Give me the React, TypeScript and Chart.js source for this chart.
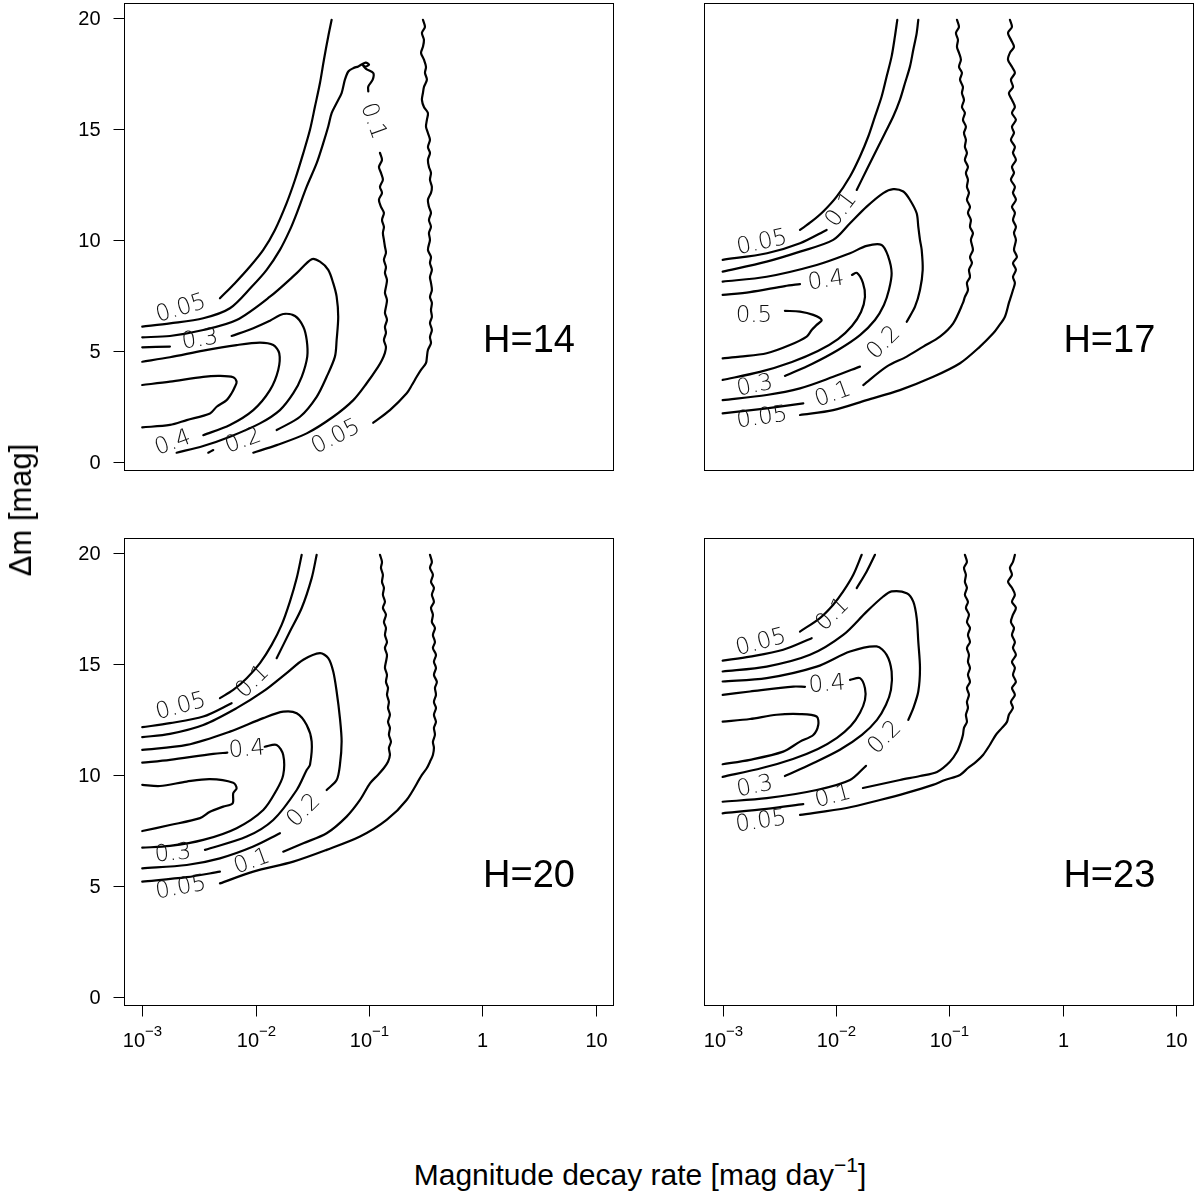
import React, { useEffect, useRef } from "react";
import { Chart, registerables } from "chart.js";

Chart.register(...registerables);

type Pt = [number, number];
type Lab = [string, number, number, number]; // text, log10 rate, delta m, angle (deg)

// ---- axes ----
const xTickExp = [-3, -2, -1, 0, 1];
const yTicks = [0, 5, 10, 15, 20];
const xMin = -3.161, xMax = 1.151, yMin = -0.37, yMax = 20.69;

// ---- H = 14 ----
const h14_c05a: Pt[] = [[-2.315,7.37],[-2.183,8.05],[-2.05,8.8],[-1.933,9.55],[-1.83,10.45],[-1.727,11.66],[-1.653,12.71],[-1.58,13.91],[-1.521,14.96],[-1.477,16.01],[-1.433,17.07],[-1.398,18.12],[-1.36,19.17],[-1.33,19.92]];
const h14_c05b: Pt[] = [[-0.525,19.92],[-0.507,19.6],[-0.534,19.33],[-0.516,19.02],[-0.525,18.7],[-0.542,18.43],[-0.516,18.12],[-0.498,17.8],[-0.507,17.53],[-0.49,17.22],[-0.516,16.89],[-0.525,16.62],[-0.534,16.31],[-0.516,15.99],[-0.481,15.72],[-0.49,15.41],[-0.498,15.1],[-0.481,14.82],[-0.463,14.51],[-0.481,14.19],[-0.463,13.92],[-0.481,13.61],[-0.472,13.29],[-0.454,13.02],[-0.463,12.71],[-0.446,12.39],[-0.454,12.12],[-0.481,11.81],[-0.472,11.49],[-0.454,11.22],[-0.472,10.9],[-0.454,10.59],[-0.472,10.31],[-0.463,10.0],[-0.481,9.55],[-0.454,9.23],[-0.463,8.96],[-0.446,8.65],[-0.463,8.33],[-0.454,8.06],[-0.446,7.74],[-0.463,7.43],[-0.446,7.16],[-0.454,6.84],[-0.446,6.53],[-0.463,6.26],[-0.446,5.94],[-0.463,5.62],[-0.454,5.35],[-0.481,5.04],[-0.49,4.72],[-0.498,4.45],[-0.542,4.14],[-0.58,3.83],[-0.622,3.46],[-0.668,3.09],[-0.816,2.33],[-0.963,1.76]];
const h14_c10a: Pt[] = [[-3.0,6.09],[-2.756,6.24],[-2.462,6.47],[-2.227,6.92],[-2.035,7.89],[-1.903,8.65],[-1.786,9.55],[-1.698,10.45],[-1.638,11.2],[-1.55,12.4],[-1.462,13.46],[-1.404,14.36],[-1.36,15.11],[-1.33,15.71],[-1.286,16.17],[-1.242,16.62],[-1.213,17.22],[-1.183,17.59],[-1.139,17.74],[-1.095,17.82],[-1.03,17.99],[-1.0,17.9],[-1.035,17.81],[-1.06,17.92],[-1.027,17.71],[-0.963,17.52],[-0.968,17.22],[-1.007,16.91],[-1.007,16.69]];
const h14_c10b: Pt[] = [[-0.904,13.92],[-0.886,13.61],[-0.913,13.29],[-0.895,13.02],[-0.878,12.71],[-0.904,12.39],[-0.886,12.12],[-0.913,11.81],[-0.895,11.49],[-0.869,11.22],[-0.886,10.9],[-0.869,10.59],[-0.878,10.31],[-0.869,10.0],[-0.86,9.69],[-0.851,9.42],[-0.869,9.1],[-0.851,8.78],[-0.86,8.51],[-0.842,8.2],[-0.851,7.88],[-0.86,7.61],[-0.842,7.29],[-0.851,6.98],[-0.86,6.71],[-0.842,6.4],[-0.86,6.08],[-0.851,5.81],[-0.869,5.49],[-0.851,5.18],[-0.86,4.91],[-0.886,4.59],[-0.922,4.27],[-1.021,3.54],[-1.139,2.78],[-1.316,2.03],[-1.55,1.28],[-1.815,0.75],[-2.021,0.41]];
const h14_c20a: Pt[] = [[-3.0,5.61],[-2.756,5.67],[-2.462,5.94],[-2.168,6.39],[-1.874,7.44],[-1.638,8.5],[-1.506,9.13],[-1.433,9.02],[-1.36,8.65],[-1.316,8.05],[-1.286,7.44],[-1.272,6.54],[-1.286,5.49],[-1.301,4.74],[-1.374,3.83],[-1.462,2.93],[-1.609,2.03],[-1.815,1.43]];
const h14_c20b: Pt[] = [[-2.374,0.53],[-2.418,0.41]];
const h14_c30a: Pt[] = [[-3.0,5.16],[-2.756,5.19]];
const h14_c30b: Pt[] = [[-2.212,5.67],[-2.021,6.02],[-1.874,6.36],[-1.757,6.66],[-1.653,6.57],[-1.58,6.09],[-1.55,5.49],[-1.545,4.74],[-1.594,3.83],[-1.668,3.09],[-1.786,2.33],[-1.962,1.73],[-2.227,1.13],[-2.462,0.71],[-2.697,0.41]];
const h14_c40: Pt[] = [[-3.0,4.51],[-2.756,4.71],[-2.462,5.01],[-2.168,5.26],[-1.962,5.37],[-1.845,5.26],[-1.792,4.89],[-1.801,4.14],[-1.874,3.23],[-2.021,2.33],[-2.227,1.66],[-2.462,1.2]];
const h14_c50: Pt[] = [[-3.0,3.46],[-2.756,3.61],[-2.462,3.83],[-2.315,3.87],[-2.198,3.81],[-2.168,3.61],[-2.183,3.38],[-2.212,3.09],[-2.256,2.78],[-2.344,2.48],[-2.403,2.18],[-2.608,1.88],[-2.756,1.66],[-3.0,1.55]];
const h14_labels: Lab[] = [["0.05",-2.659,6.89,-17],["0.05",-1.292,1.11,-27],["0.1",-0.966,15.35,70],["0.2",-2.11,0.93,-20],["0.3",-2.491,5.49,-8],["0.4",-2.729,0.84,-20]];

// ---- H = 17 ----
const h17_c05a: Pt[] = [[-2.318,10.45],[-2.215,10.83],[-2.113,11.28],[-1.995,11.95],[-1.877,12.86],[-1.789,13.76],[-1.716,14.66],[-1.657,15.56],[-1.598,16.46],[-1.554,17.36],[-1.51,18.27],[-1.481,19.17],[-1.46,19.92]];
const h17_c05b: Pt[] = [[-0.467,19.92],[-0.449,19.6],[-0.484,19.33],[-0.458,19.02],[-0.431,18.7],[-0.467,18.43],[-0.484,18.12],[-0.449,17.8],[-0.423,17.53],[-0.458,17.22],[-0.44,16.89],[-0.476,16.62],[-0.449,16.31],[-0.423,15.99],[-0.449,15.72],[-0.414,15.41],[-0.449,15.1],[-0.431,14.82],[-0.458,14.51],[-0.423,14.19],[-0.44,13.92],[-0.414,13.61],[-0.449,13.29],[-0.431,13.02],[-0.458,12.71],[-0.423,12.39],[-0.44,12.12],[-0.414,11.81],[-0.449,11.49],[-0.423,11.22],[-0.44,10.9],[-0.414,10.59],[-0.431,10.31],[-0.414,10.0],[-0.431,9.55],[-0.405,9.23],[-0.44,8.96],[-0.414,8.65],[-0.44,8.33],[-0.423,8.06],[-0.44,7.74],[-0.458,7.44],[-0.476,7.16],[-0.511,6.54],[-0.572,6.07],[-0.614,5.79],[-0.731,5.19],[-0.907,4.44],[-1.143,3.83],[-1.437,3.23],[-1.73,2.78],[-2.025,2.33],[-2.318,2.11]];
const h17_c10a: Pt[] = [[-3.0,9.1],[-2.609,9.4],[-2.318,9.85],[-2.083,10.45]];
const h17_c10b: Pt[] = [[-1.818,12.25],[-1.73,13.16],[-1.642,14.06],[-1.569,14.81],[-1.496,15.56],[-1.437,16.31],[-1.392,17.07],[-1.348,17.82],[-1.319,18.57],[-1.289,19.32],[-1.275,19.92]];
const h17_c10c: Pt[] = [[-0.934,19.92],[-0.916,19.6],[-0.943,19.33],[-0.925,19.02],[-0.934,18.7],[-0.916,18.43],[-0.899,18.12],[-0.916,17.8],[-0.89,17.53],[-0.907,17.22],[-0.881,16.89],[-0.89,16.62],[-0.872,16.31],[-0.89,15.99],[-0.864,15.72],[-0.881,15.41],[-0.855,15.1],[-0.872,14.82],[-0.855,14.51],[-0.864,14.19],[-0.846,13.92],[-0.864,13.61],[-0.837,13.29],[-0.855,13.02],[-0.837,12.71],[-0.846,12.39],[-0.828,12.12],[-0.846,11.81],[-0.819,11.49],[-0.837,11.22],[-0.811,10.9],[-0.819,10.59],[-0.793,10.31],[-0.811,10.0],[-0.793,9.55],[-0.819,9.23],[-0.802,8.96],[-0.828,8.65],[-0.819,8.33],[-0.846,8.06],[-0.837,7.74],[-0.864,7.43],[-0.881,7.16],[-0.967,6.24],[-1.084,5.64],[-1.231,5.19],[-1.377,4.74],[-1.554,4.29],[-1.76,3.46]];
const h17_c10d: Pt[] = [[-2.289,2.63],[-2.612,2.41],[-3.0,2.18]];
const h17_c20a: Pt[] = [[-3.0,8.57],[-2.612,9.02],[-2.318,9.47],[-2.025,10.0],[-1.877,10.75],[-1.73,11.5],[-1.584,12.11],[-1.496,12.29],[-1.407,12.18],[-1.348,11.8],[-1.289,11.2],[-1.275,10.6],[-1.26,10.0],[-1.245,9.55],[-1.236,8.65],[-1.26,7.74],[-1.304,6.99],[-1.377,6.31]];
const h17_c20b: Pt[] = [[-1.789,4.29],[-2.025,3.83],[-2.318,3.31],[-2.612,3.01],[-3.0,2.78]];
const h17_c30: Pt[] = [[-3.0,8.12],[-2.612,8.34],[-2.171,8.87],[-1.877,9.4],[-1.73,9.73],[-1.598,9.77],[-1.54,9.25],[-1.51,8.5],[-1.534,7.74],[-1.578,7.07],[-1.657,6.39],[-1.789,5.71],[-1.983,5.04],[-2.213,4.41],[-2.451,3.87]];
const h17_c40a: Pt[] = [[-3.0,7.52],[-2.759,7.65],[-2.451,7.92],[-2.318,8.01]];
const h17_c40b: Pt[] = [[-1.86,8.42],[-1.816,8.51],[-1.763,8.06],[-1.745,7.43],[-1.78,6.75],[-1.86,6.12],[-1.983,5.53],[-2.16,4.99],[-2.389,4.5],[-2.671,4.05],[-3.0,3.69]];
const h17_c50: Pt[] = [[-2.451,6.8],[-2.318,6.77],[-2.201,6.62],[-2.127,6.39],[-2.171,6.17],[-2.215,5.94],[-2.259,5.64],[-2.407,5.26],[-2.612,4.89],[-2.847,4.74],[-3.0,4.66]];
const h17_labels: Lab[] = [["0.05",-2.653,9.86,-12],["0.1",-1.951,11.35,-53],["0.4",-2.089,8.15,-8],["0.5",-2.724,6.57,0],["0.2",-1.578,5.35,-45],["0.3",-2.715,3.41,-12],["0.1",-2.027,3.01,-20],["0.05",-2.653,1.97,-8]];

// ---- H = 20 ----
const h20_c05a: Pt[] = [[-2.315,13.46],[-2.198,13.83],[-2.079,14.36],[-1.962,15.04],[-1.859,15.86],[-1.771,16.76],[-1.698,17.81],[-1.638,18.87],[-1.594,19.92]];
const h20_c05b: Pt[] = [[-0.463,19.92],[-0.446,19.6],[-0.463,19.33],[-0.437,19.02],[-0.454,18.7],[-0.428,18.43],[-0.446,18.12],[-0.428,17.8],[-0.454,17.53],[-0.437,17.22],[-0.446,16.89],[-0.419,16.62],[-0.437,16.31],[-0.419,15.99],[-0.437,15.72],[-0.41,15.41],[-0.428,15.1],[-0.41,14.82],[-0.428,14.51],[-0.402,14.19],[-0.419,13.92],[-0.41,13.61],[-0.428,13.29],[-0.41,13.02],[-0.428,12.71],[-0.41,12.39],[-0.428,12.12],[-0.419,11.81],[-0.437,11.49],[-0.428,11.22],[-0.437,10.9],[-0.463,10.59],[-0.49,10.31],[-0.534,10.0],[-0.669,8.87],[-0.845,7.97],[-1.08,7.22],[-1.374,6.62],[-1.668,6.09],[-2.021,5.64],[-2.315,5.11]];
const h20_c10a: Pt[] = [[-3.0,12.15],[-2.756,12.33],[-2.462,12.63],[-2.212,13.23]];
const h20_c10b: Pt[] = [[-1.815,15.26],[-1.698,16.46],[-1.594,17.52],[-1.506,18.87],[-1.462,19.92]];
const h20_c10c: Pt[] = [[-0.904,19.92],[-0.886,19.6],[-0.895,19.33],[-0.878,19.02],[-0.886,18.7],[-0.869,18.43],[-0.878,18.12],[-0.86,17.8],[-0.878,17.53],[-0.851,17.22],[-0.869,16.89],[-0.851,16.62],[-0.86,16.31],[-0.842,15.99],[-0.86,15.72],[-0.842,15.41],[-0.851,15.1],[-0.86,14.82],[-0.842,14.51],[-0.851,14.19],[-0.833,13.92],[-0.842,13.61],[-0.825,13.29],[-0.833,13.02],[-0.816,12.71],[-0.833,12.39],[-0.816,12.12],[-0.825,11.81],[-0.807,11.49],[-0.825,11.22],[-0.816,10.9],[-0.833,10.59],[-0.869,10.31],[-0.922,10.0],[-0.992,9.62],[-1.08,8.87],[-1.198,8.12],[-1.374,7.37],[-1.58,6.92],[-1.757,6.54]];
const h20_c10d: Pt[] = [[-2.315,5.64],[-2.608,5.39],[-3.0,5.19]];
const h20_c20a: Pt[] = [[-3.0,11.7],[-2.756,11.85],[-2.462,12.25],[-2.168,13.01],[-1.933,13.76],[-1.727,14.59],[-1.58,15.19],[-1.433,15.49],[-1.36,15.26],[-1.316,14.66],[-1.286,13.76],[-1.257,12.56],[-1.242,11.5],[-1.257,10.45],[-1.286,9.77],[-1.374,9.32]];
const h20_c20b: Pt[] = [[-1.786,7.37],[-2.021,6.77],[-2.315,6.24],[-2.608,5.94],[-3.0,5.79]];
const h20_c30: Pt[] = [[-3.0,11.13],[-2.608,11.35],[-2.227,11.95],[-1.933,12.56],[-1.757,12.85],[-1.638,12.78],[-1.55,12.25],[-1.506,11.5],[-1.521,10.45],[-1.55,10.22],[-1.638,9.32],[-1.845,7.97],[-2.079,7.22],[-2.447,6.62]];
const h20_c40a: Pt[] = [[-3.0,10.55],[-2.756,10.68],[-2.374,10.95],[-2.25,11.0]];
const h20_c40b: Pt[] = [[-1.92,11.27],[-1.815,11.35],[-1.757,10.9],[-1.757,10.0],[-1.815,9.32],[-1.933,8.42],[-2.168,7.6],[-2.462,7.07],[-2.756,6.8],[-3.0,6.72]];
const h20_c50: Pt[] = [[-3.0,9.55],[-2.844,9.5],[-2.608,9.7],[-2.403,9.81],[-2.198,9.65],[-2.168,9.4],[-2.198,9.17],[-2.203,8.72],[-2.286,8.57],[-2.403,8.34],[-2.491,8.05],[-2.756,7.74],[-3.0,7.47]];
const h20_labels: Lab[] = [["0.05",-2.659,13.07,-15],["0.1",-2.024,14.19,-45],["0.4",-2.077,11.13,-5],["0.3",-2.729,6.44,-5],["0.2",-1.574,8.38,-45],["0.1",-2.033,6.08,-20],["0.05",-2.659,4.9,-10]];

// ---- H = 23 ----
const h23_c05a: Pt[] = [[-2.318,16.46],[-2.142,17.07],[-2.025,17.67],[-1.937,18.27],[-1.848,19.02],[-1.774,19.92]];
const h23_c05b: Pt[] = [[-0.423,19.92],[-0.44,19.6],[-0.467,19.33],[-0.449,19.02],[-0.484,18.7],[-0.449,18.43],[-0.423,18.12],[-0.449,17.8],[-0.414,17.53],[-0.44,17.22],[-0.458,16.89],[-0.431,16.62],[-0.449,16.31],[-0.423,15.99],[-0.44,15.72],[-0.414,15.41],[-0.449,15.1],[-0.423,14.82],[-0.44,14.51],[-0.414,14.19],[-0.449,13.92],[-0.423,13.61],[-0.458,13.29],[-0.44,13.02],[-0.476,12.71],[-0.493,12.39],[-0.537,12.12],[-0.59,11.81],[-0.643,11.36],[-0.704,10.9],[-0.766,10.59],[-0.837,10.31],[-0.907,10.0],[-1.04,9.77],[-1.146,9.55],[-1.377,9.19],[-1.613,8.87],[-1.907,8.51],[-2.318,8.2]];
const h23_c10a: Pt[] = [[-3.0,15.15],[-2.759,15.33],[-2.466,15.64],[-2.215,16.16]];
const h23_c10b: Pt[] = [[-1.818,18.42],[-1.73,19.17],[-1.657,19.92]];
const h23_c10c: Pt[] = [[-0.864,19.92],[-0.846,19.6],[-0.872,19.33],[-0.855,19.02],[-0.864,18.7],[-0.846,18.43],[-0.864,18.12],[-0.837,17.8],[-0.855,17.53],[-0.828,17.22],[-0.846,16.89],[-0.819,16.62],[-0.837,16.31],[-0.819,15.99],[-0.846,15.72],[-0.828,15.41],[-0.837,15.1],[-0.819,14.82],[-0.837,14.51],[-0.819,14.19],[-0.846,13.92],[-0.828,13.61],[-0.846,13.29],[-0.837,13.02],[-0.855,12.71],[-0.846,12.39],[-0.872,12.12],[-0.881,11.81],[-0.899,11.49],[-0.934,11.04],[-0.996,10.59],[-1.11,10.13],[-1.26,9.95],[-1.437,9.77],[-1.763,9.41]];
const h23_c10d: Pt[] = [[-2.289,8.68],[-2.612,8.47],[-3.0,8.27]];
const h23_c20a: Pt[] = [[-3.0,14.66],[-2.612,14.88],[-2.23,15.41],[-1.937,16.31],[-1.73,17.36],[-1.584,18.04],[-1.51,18.27],[-1.377,18.19],[-1.319,17.81],[-1.289,17.07],[-1.275,16.01],[-1.26,14.81],[-1.275,13.76],[-1.319,13.01],[-1.363,12.48]];
const h23_c20b: Pt[] = [[-1.736,10.41],[-1.877,9.77],[-2.171,9.32],[-2.612,8.95],[-3.0,8.79]];
const h23_c30: Pt[] = [[-3.0,14.21],[-2.612,14.36],[-2.171,14.88],[-1.877,15.56],[-1.642,15.79],[-1.554,15.41],[-1.51,14.66],[-1.516,13.83],[-1.56,13.16],[-1.639,12.48],[-1.772,11.8],[-1.966,11.13],[-2.213,10.5],[-2.451,9.95]];
const h23_c40a: Pt[] = [[-3.0,13.61],[-2.759,13.76],[-2.377,13.98],[-2.274,13.97]];
const h23_c40b: Pt[] = [[-1.877,14.28],[-1.789,14.36],[-1.745,13.91],[-1.745,13.38],[-1.789,12.8],[-1.869,12.21],[-1.992,11.67],[-2.16,11.17],[-2.38,10.72],[-2.653,10.31],[-3.0,9.91]];
const h23_c50: Pt[] = [[-3.0,12.4],[-2.759,12.52],[-2.524,12.71],[-2.318,12.74],[-2.171,12.63],[-2.157,12.25],[-2.201,11.8],[-2.318,11.5],[-2.466,11.05],[-2.759,10.68],[-3.0,10.48]];
const h23_labels: Lab[] = [["0.05",-2.662,15.95,-15],["0.1",-2.027,17.22,-45],["0.4",-2.08,14.06,-5],["0.2",-1.569,11.67,-45],["0.3",-2.715,9.46,-12],["0.1",-2.027,9.01,-15],["0.05",-2.662,7.88,-8]];

const FONT = "'Liberation Sans', Arial, Helvetica, sans-serif";

type PanelCfg = {
  title: string;
  pieces: Pt[][];
  labels: Lab[];
  left: number; top: number; w: number; h: number;
  pad: { left: number; right: number; top: number; bottom: number };
  showY: boolean; showX: boolean;
};

const panels: PanelCfg[] = [
  { title: "H=14", pieces: [h14_c05a, h14_c05b, h14_c10a, h14_c10b, h14_c20a, h14_c20b, h14_c30a, h14_c30b, h14_c40, h14_c50], labels: h14_labels,
    left: 0, top: 0, w: 640, h: 535, pad: { left: 124, right: 27, top: 2.7, bottom: 65 }, showY: true, showX: false },
  { title: "H=17", pieces: [h17_c05a, h17_c05b, h17_c10a, h17_c10b, h17_c10c, h17_c10d, h17_c20a, h17_c20b, h17_c30, h17_c40a, h17_c40b, h17_c50], labels: h17_labels,
    left: 640, top: 0, w: 559, h: 535, pad: { left: 64.4, right: 5.6, top: 2.7, bottom: 65 }, showY: false, showX: false },
  { title: "H=20", pieces: [h20_c05a, h20_c05b, h20_c10a, h20_c10b, h20_c10c, h20_c10d, h20_c20a, h20_c20b, h20_c30, h20_c40a, h20_c40b, h20_c50], labels: h20_labels,
    left: 0, top: 535, w: 640, h: 600, pad: { left: 124, right: 27, top: 2.7, bottom: 130 }, showY: true, showX: true },
  { title: "H=23", pieces: [h23_c05a, h23_c05b, h23_c10a, h23_c10b, h23_c10c, h23_c10d, h23_c20a, h23_c20b, h23_c30, h23_c40a, h23_c40b, h23_c50], labels: h23_labels,
    left: 640, top: 535, w: 559, h: 600, pad: { left: 64.4, right: 5.6, top: 2.7, bottom: 130 }, showY: false, showX: true },
];

function makePlugin(cfg: PanelCfg) {
  return {
    id: "rdeco",
    afterDatasetsDraw(chart: any) {
      const { ctx, chartArea: a, scales } = chart;
      const xs = scales.x, ys = scales.y;
      ctx.save();
      // contour labels
      ctx.fillStyle = "#111";
      ctx.font = "200 23px 'DejaVu Sans', sans-serif";
      ctx.textAlign = "center";
      ctx.textBaseline = "middle";
      for (const [t, x, y, ang] of cfg.labels) {
        ctx.save();
        ctx.translate(xs.getPixelForValue(x), ys.getPixelForValue(y));
        ctx.rotate((ang * Math.PI) / 180);
        ctx.fillText(t, 0, 0);
        ctx.restore();
      }
      // panel title
      ctx.fillStyle = "#000";
      ctx.font = `38px ${FONT}`;
      ctx.fillText(cfg.title, xs.getPixelForValue(0.41), ys.getPixelForValue(5.4));
      // box
      ctx.strokeStyle = "#000";
      ctx.lineWidth = 1;
      const L = Math.round(a.left) + 0.5, R = Math.round(a.right) + 0.5;
      const T = Math.round(a.top) + 0.5, B = Math.round(a.bottom) + 0.5;
      ctx.strokeRect(L, T, R - L, B - T);
      // y axis
      if (cfg.showY) {
        ctx.font = `20px ${FONT}`;
        ctx.textAlign = "right";
        ctx.textBaseline = "middle";
        for (const v of yTicks) {
          const py = Math.round(ys.getPixelForValue(v)) + 0.5;
          ctx.beginPath();
          ctx.moveTo(L - 11, py);
          ctx.lineTo(L, py);
          ctx.stroke();
          ctx.fillText(String(v), L - 24, py + 1);
        }
      }
      // x axis
      if (cfg.showX) {
        ctx.textBaseline = "alphabetic";
        ctx.textAlign = "left";
        for (const e of xTickExp) {
          const px = Math.round(xs.getPixelForValue(e)) + 0.5;
          ctx.beginPath();
          ctx.moveTo(px, B);
          ctx.lineTo(px, B + 11);
          ctx.stroke();
          const base = e === 0 ? "1" : "10";
          ctx.font = `20px ${FONT}`;
          const w1 = ctx.measureText(base).width;
          let sup = "";
          let w2 = 0;
          if (e < 0) {
            sup = "\u2212" + Math.abs(e);
            ctx.font = `15px ${FONT}`;
            w2 = ctx.measureText(sup).width;
          }
          const x0 = px - (w1 + w2) / 2;
          ctx.font = `20px ${FONT}`;
          ctx.fillText(base, x0, B + 41);
          if (sup) {
            ctx.font = `15px ${FONT}`;
            ctx.fillText(sup, x0 + w1, B + 30);
          }
        }
      }
      ctx.restore();
    },
  };
}

function Panel({ cfg }: { cfg: PanelCfg }) {
  const ref = useRef<HTMLCanvasElement>(null);
  useEffect(() => {
    const chart = new Chart(ref.current as HTMLCanvasElement, {
      type: "scatter",
      data: {
        datasets: cfg.pieces.map((p) => ({
          data: p.map(([x, y]) => ({ x, y })),
          showLine: true,
          borderColor: "#000",
          borderWidth: 2.2,
          borderCapStyle: "round",
          borderJoinStyle: "round",
          pointRadius: 0,
          fill: false,
          tension: 0.3,
        })),
      } as any,
      options: {
        responsive: false,
        animation: false,
        events: [],
        layout: { padding: cfg.pad },
        plugins: { legend: { display: false }, tooltip: { enabled: false } },
        scales: {
          x: { type: "linear", min: xMin, max: xMax, display: false },
          y: { type: "linear", min: yMin, max: yMax, display: false },
        },
      } as any,
      plugins: [makePlugin(cfg)],
    });
    return () => chart.destroy();
  }, [cfg]);
  return (
    <canvas
      ref={ref}
      width={cfg.w}
      height={cfg.h}
      style={{ position: "absolute", left: cfg.left, top: cfg.top, width: cfg.w, height: cfg.h }}
    />
  );
}

export default function App() {
  return (
    <div style={{ position: "absolute", left: 0, top: 0, width: 1199, height: 1204, background: "#fff", overflow: "hidden" }}>
      {panels.map((p) => (
        <Panel key={p.title} cfg={p} />
      ))}
      <div
        style={{
          position: "absolute",
          left: 21,
          top: 510,
          transform: "translate(-50%,-50%) rotate(-90deg)",
          font: `31px ${FONT}`,
          whiteSpace: "nowrap",
          color: "#000",
        }}
      >
        Δm [mag]
      </div>
      <div
        style={{
          position: "absolute",
          left: 140,
          width: 1000,
          top: 1160,
          textAlign: "center",
          font: `30px ${FONT}`,
          lineHeight: "30px",
          whiteSpace: "nowrap",
          color: "#000",
        }}
      >
        Magnitude decay rate [mag day
        <span style={{ fontSize: 21, position: "relative", top: -13 }}>−1</span>]
      </div>
    </div>
  );
}
